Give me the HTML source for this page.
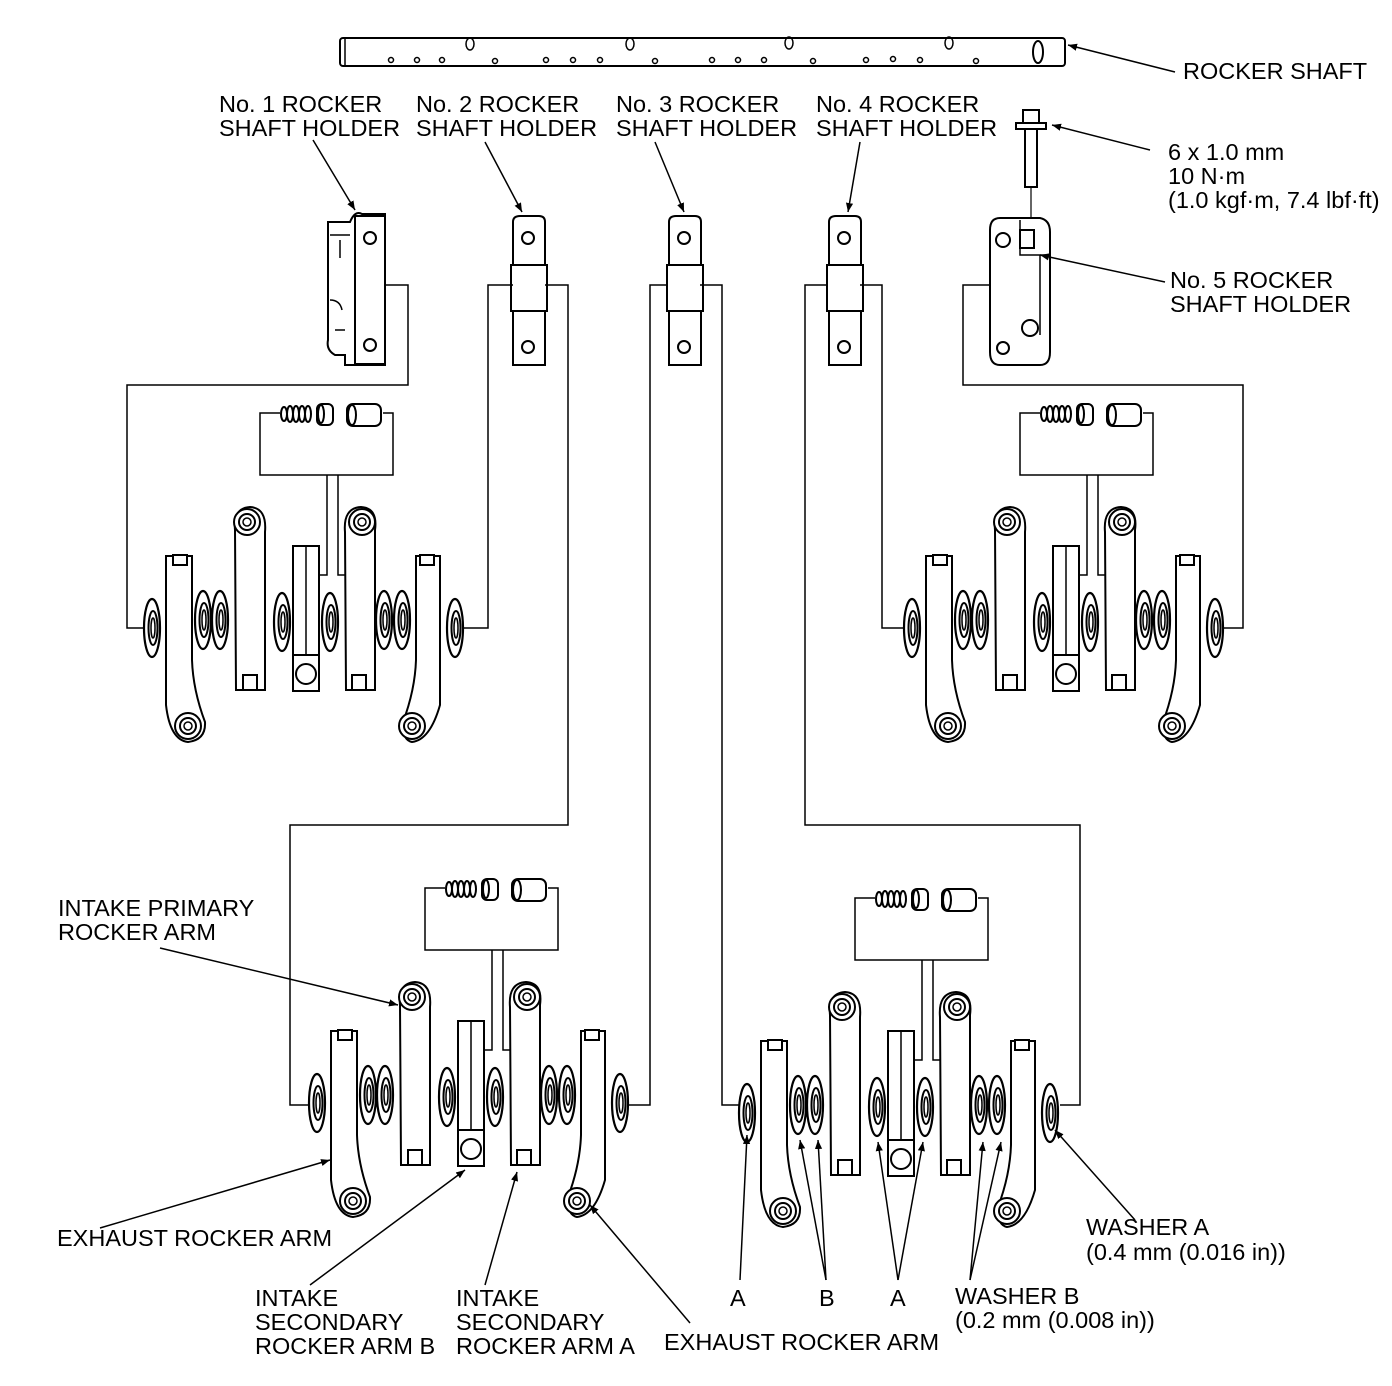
<!DOCTYPE html>
<html><head><meta charset="utf-8"><style>
html,body{margin:0;padding:0;background:#fff;}
svg{display:block;}
text{font-family:"Liberation Sans",Arial,sans-serif;font-size:23.5px;fill:#000;}
</style></head><body>
<svg width="1392" height="1386" viewBox="0 0 1392 1386" xmlns="http://www.w3.org/2000/svg">
<defs>
<marker id="ar" viewBox="0 0 10 10" refX="10" refY="5" markerWidth="9" markerHeight="9" orient="auto-start-reverse" markerUnits="userSpaceOnUse">
<path d="M0,1 L10,5 L0,9 Z" fill="#000"/></marker>
<g id="w">
<ellipse cx="0" cy="0" rx="8" ry="29" fill="#fff" stroke="#000" stroke-width="2.2"/>
<ellipse cx="1" cy="0" rx="4.5" ry="17" fill="none" stroke="#000" stroke-width="2"/>
<ellipse cx="1" cy="0" rx="2" ry="10" fill="none" stroke="#000" stroke-width="1.5"/>
</g>
<g id="bolt">
<circle cx="0" cy="0" r="13" fill="#fff" stroke="#000" stroke-width="2"/>
<circle cx="0" cy="0" r="8" fill="none" stroke="#000" stroke-width="2"/>
<circle cx="0" cy="0" r="4" fill="none" stroke="#000" stroke-width="1.5"/>
</g>
<g id="set" fill="#fff" stroke="#000" stroke-width="2">
<ellipse cx="284" cy="414" rx="3" ry="7"/><ellipse cx="290" cy="414" rx="3" ry="8"/><ellipse cx="296" cy="414" rx="3" ry="8"/><ellipse cx="302" cy="414" rx="3" ry="8"/><ellipse cx="308" cy="414" rx="3" ry="8"/>
<rect x="317" y="404" width="16" height="21" rx="5"/><ellipse cx="321" cy="414" rx="3" ry="9"/>
<rect x="347" y="404" width="34" height="22" rx="6"/><ellipse cx="352" cy="415" rx="4" ry="10"/>
<path d="M280,413 H260 V475 H393 V413 H383" fill="none" stroke-width="1.5"/>
<path d="M327,475 V575 H318 M338,475 V575 H345" fill="none" stroke-width="1.5"/>
<use href="#w" x="152" y="628"/>
<path d="M166,560 L166,705 Q170,740 188,742 Q206,740 205,722 Q193,690 192,660 L192,556 L166,556 Z"/>
<rect x="173" y="555" width="14" height="10"/>
<use href="#bolt" x="188" y="726"/>
<use href="#w" x="203" y="620"/><use href="#w" x="220" y="620"/>
<path d="M235,530 Q233,508 250,507 Q267,508 265,532 L265,690 L236,690 Z"/>
<rect x="243" y="675" width="14" height="15"/>
<use href="#bolt" x="247" y="522"/>
<use href="#w" x="282" y="622"/>
<rect x="293" y="546" width="26" height="145"/>
<line x1="306" y1="546" x2="306" y2="655" stroke-width="1.5"/>
<rect x="293" y="655" width="26" height="36"/>
<circle cx="306" cy="674" r="10"/>
<use href="#w" x="330" y="622"/>
<path d="M345,532 Q343,508 361,507 Q378,508 375,530 L375,690 L346,690 Z"/>
<rect x="352" y="675" width="14" height="15"/>
<use href="#bolt" x="362" y="522"/>
<use href="#w" x="384" y="620"/><use href="#w" x="402" y="620"/>
<path d="M416,556 L416,660 Q415,690 403,722 Q402,740 412,742 Q430,740 440,705 L440,556 Z"/>
<rect x="420" y="555" width="14" height="10"/>
<use href="#bolt" x="412" y="726"/>
<use href="#w" x="455" y="628"/>
</g>
</defs>

<g stroke="#000" stroke-width="2" fill="#fff">
<rect x="340" y="38" width="725" height="28" rx="3"/>
<line x1="345" y1="38" x2="345" y2="66" stroke-width="1.5"/>
<ellipse cx="1038" cy="52" rx="5" ry="11"/>
<g fill="none" stroke-width="1.5">
<circle cx="391" cy="60" r="2.5"/><circle cx="417" cy="60" r="2.5"/><circle cx="442" cy="60" r="2.5"/><circle cx="495" cy="61" r="2.5"/><circle cx="546" cy="60" r="2.5"/><circle cx="573" cy="60" r="2.5"/><circle cx="600" cy="60" r="2.5"/><circle cx="655" cy="61" r="2.5"/><circle cx="712" cy="60" r="2.5"/><circle cx="738" cy="60" r="2.5"/><circle cx="764" cy="60" r="2.5"/><circle cx="813" cy="61" r="2.5"/><circle cx="866" cy="60" r="2.5"/><circle cx="893" cy="59" r="2.5"/><circle cx="920" cy="60" r="2.5"/><circle cx="976" cy="61" r="2.5"/>
<ellipse cx="470" cy="44" rx="4" ry="6"/><ellipse cx="630" cy="44" rx="4" ry="6"/><ellipse cx="789" cy="43" rx="4" ry="6"/><ellipse cx="949" cy="43" rx="4" ry="6"/>
</g>
<rect x="1023" y="110" width="16" height="14"/>
<rect x="1016" y="123" width="30" height="6"/>
<rect x="1025" y="129" width="12" height="58"/>
<line x1="1031" y1="187" x2="1031" y2="260" stroke-width="1.2"/>
<path d="M328,222 H350 Q355,210 362,214 H385 V365 H345 V355 H335 Q326,350 328,340 V225 Z"/>
<rect x="355" y="216" width="30" height="148"/>
<circle cx="370" cy="238" r="6"/><circle cx="370" cy="345" r="6"/>
<path d="M330,235 H350 M340,240 V258 M330,300 Q340,300 342,310 M335,330 H345" fill="none" stroke-width="1.5"/>
<g id="h">
<path d="M513,222 Q513,216 520,216 H539 Q545,216 545,222 V365 H513 Z"/>
<rect x="511" y="265" width="36" height="46"/>
<circle cx="528" cy="238" r="6"/><circle cx="528" cy="347" r="6"/>
</g>
<use href="#h" x="156" y="0"/>
<use href="#h" x="316" y="0"/>
<path d="M990,230 Q990,218 1000,218 H1040 Q1050,220 1050,232 V352 Q1050,365 1040,365 H1000 Q990,365 990,352 Z"/>
<rect x="1020" y="230" width="14" height="18"/>
<path d="M1020,220 V255 H1050 M1040,255 V335" fill="none" stroke-width="1.5"/>
<circle cx="1003" cy="240" r="7"/><circle cx="1030" cy="328" r="8"/><circle cx="1003" cy="348" r="6"/>
</g>

<g fill="none" stroke="#000" stroke-width="1.5">
<path d="M385,285 H408 V385 H127 V628 H145"/>
<path d="M513,285 H488 V628 H463"/>
<path d="M545,285 H568 V825 H290 V1105 H310"/>
<path d="M668,285 H650 V1105 H628"/>
<path d="M700,285 H722 V1105 H740"/>
<path d="M828,285 H805 V825 H1080 V1105 H1060"/>
<path d="M860,285 H882 V628 H905"/>
<path d="M990,285 H963 V385 H1243 V628 H1222"/>
</g>

<use href="#set"/>
<use href="#set" x="760" y="0"/>
<use href="#set" x="165" y="475"/>
<use href="#set" x="595" y="485"/>

<g stroke="#000" stroke-width="1.5" fill="none" marker-end="url(#ar)">
<line x1="1175" y1="72" x2="1068" y2="45"/>
<line x1="313" y1="140" x2="355" y2="210"/>
<line x1="485" y1="142" x2="522" y2="212"/>
<line x1="655" y1="142" x2="684" y2="212"/>
<line x1="860" y1="142" x2="848" y2="212"/>
<line x1="1150" y1="150" x2="1052" y2="125"/>
<line x1="1165" y1="282" x2="1040" y2="255"/>
<line x1="160" y1="948" x2="398" y2="1005"/>
<line x1="100" y1="1228" x2="330" y2="1160"/>
<line x1="310" y1="1285" x2="465" y2="1170"/>
<line x1="485" y1="1285" x2="517" y2="1172"/>
<line x1="690" y1="1323" x2="590" y2="1205"/>
<line x1="740" y1="1280" x2="747" y2="1135"/>
<line x1="826" y1="1280" x2="800" y2="1140"/>
<line x1="826" y1="1280" x2="818" y2="1140"/>
<line x1="898" y1="1280" x2="878" y2="1142"/>
<line x1="898" y1="1280" x2="923" y2="1142"/>
<line x1="970" y1="1280" x2="983" y2="1142"/>
<line x1="970" y1="1280" x2="1001" y2="1142"/>
<line x1="1135" y1="1220" x2="1055" y2="1130"/>
</g>

<text x="1183" y="79">ROCKER SHAFT</text>
<text x="219" y="112">No. 1 ROCKER</text><text x="219" y="136">SHAFT HOLDER</text>
<text x="416" y="112">No. 2 ROCKER</text><text x="416" y="136">SHAFT HOLDER</text>
<text x="616" y="112">No. 3 ROCKER</text><text x="616" y="136">SHAFT HOLDER</text>
<text x="816" y="112">No. 4 ROCKER</text><text x="816" y="136">SHAFT HOLDER</text>
<text x="1168" y="160">6 x 1.0 mm</text><text x="1168" y="184">10 N·m</text><text x="1168" y="208">(1.0 kgf·m, 7.4 lbf·ft)</text>
<text x="1170" y="288">No. 5 ROCKER</text><text x="1170" y="312">SHAFT HOLDER</text>
<text x="58" y="916">INTAKE PRIMARY</text><text x="58" y="940">ROCKER ARM</text>
<text x="57" y="1246">EXHAUST ROCKER ARM</text>
<text x="255" y="1306">INTAKE</text><text x="255" y="1330">SECONDARY</text><text x="255" y="1354">ROCKER ARM B</text>
<text x="456" y="1306">INTAKE</text><text x="456" y="1330">SECONDARY</text><text x="456" y="1354">ROCKER ARM A</text>
<text x="664" y="1350">EXHAUST ROCKER ARM</text>
<text x="730" y="1306">A</text><text x="819" y="1306">B</text><text x="890" y="1306">A</text>
<text x="955" y="1304">WASHER B</text><text x="955" y="1328">(0.2 mm (0.008 in))</text>
<text x="1086" y="1235">WASHER A</text><text x="1086" y="1260">(0.4 mm (0.016 in))</text>
</svg>
</body></html>
